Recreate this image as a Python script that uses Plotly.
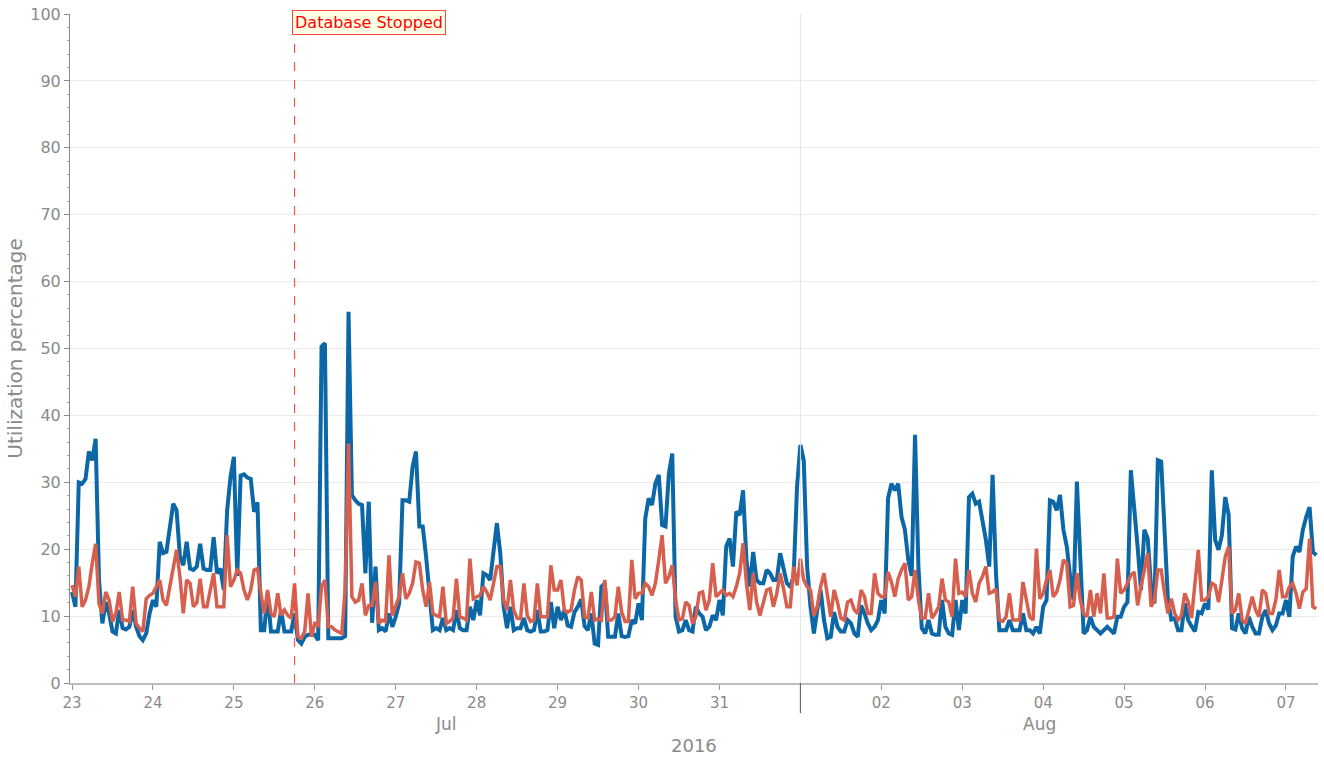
import pandas as pd
import plotly.graph_objects as go

# hourly samples, starting 2016-07-23 00:00
start = "2016-07-23 00:00"

blue_util = [
    # Jul 23
    13.6, 11.4, 30.0, 29.8, 30.5, 34.6, 33.3, 36.5, 15.4, 8.9, 12.1, 10.4, 7.7, 7.4, 10.9, 8.2, 8.0, 8.4, 10.9, 8.4, 7.0, 6.4, 7.4, 10.4,
    # Jul 24
    12.4, 11.4, 21.1, 19.4, 19.6, 23.3, 26.8, 25.8, 18.9, 17.6, 21.1, 17.1, 16.9, 17.4, 20.8, 17.1, 16.9, 16.9, 21.8, 16.4, 17.1, 13.9, 25.8, 30.8,
    # Jul 25
    33.8, 16.0, 31.0, 31.2, 30.7, 30.5, 25.6, 27.0, 7.9, 7.9, 13.4, 7.7, 7.7, 7.7, 10.9, 7.7, 7.7, 7.7, 10.4, 6.4, 5.9, 6.9, 7.2, 7.2,
    # Jul 26
    7.2, 6.4, 50.3, 50.8, 6.7, 6.7, 6.7, 6.7, 6.7, 7.0, 55.5, 28.1, 27.3, 26.8, 26.6, 16.4, 27.1, 9.0, 17.4, 7.9, 8.2, 7.7, 10.4, 8.4,
    # Jul 27
    9.9, 11.9, 27.3, 27.3, 27.1, 32.3, 34.6, 23.4, 23.4, 18.9, 13.9, 7.9, 8.2, 7.9, 9.7, 7.9, 8.2, 7.9, 10.9, 8.2, 7.9, 7.9, 11.4, 9.4,
    # Jul 28
    12.4, 10.1, 16.4, 16.1, 15.4, 19.4, 23.9, 19.4, 11.4, 8.2, 11.4, 7.9, 8.2, 8.2, 9.7, 7.9, 7.7, 7.9, 10.9, 7.7, 7.7, 7.9, 12.1, 8.2,
    # Jul 29
    11.4, 9.4, 10.9, 8.6, 8.4, 10.6, 11.4, 12.5, 8.5, 7.9, 10.4, 5.9, 5.7, 14.4, 14.9, 6.9, 6.9, 6.9, 10.4, 7.0, 6.9, 7.0, 9.4, 8.9,
    # Jul 30
    11.9, 9.4, 24.6, 27.6, 26.6, 29.8, 31.1, 23.6, 23.4, 31.3, 34.3, 9.9, 7.7, 7.9, 9.4, 7.9, 7.7, 11.4, 10.4, 9.9, 7.9, 8.4, 10.1, 9.4,
    # Jul 31
    12.4, 10.1, 20.4, 21.6, 17.4, 25.6, 25.1, 28.8, 18.4, 14.4, 19.6, 15.4, 14.9, 14.9, 16.9, 16.4, 15.4, 15.4, 19.4, 17.1, 14.9, 14.4, 15.9, 29.3,
    # Aug 01
    35.6, 33.3, 17.4, 11.4, 7.4, 10.9, 13.9, 9.4, 6.7, 6.9, 10.6, 8.4, 7.7, 7.7, 9.4, 8.9, 7.4, 6.9, 11.6, 10.4, 8.9, 7.9, 8.4, 9.4,
    # Aug 02
    12.4, 10.4, 27.6, 29.8, 28.8, 29.8, 24.8, 22.9, 18.4, 16.0, 37.1, 17.4, 8.2, 7.4, 9.4, 7.4, 7.2, 7.2, 12.4, 8.4, 7.4, 7.2, 12.4, 7.9,
    # Aug 03
    12.4, 10.4, 27.8, 28.3, 26.8, 27.1, 24.3, 21.4, 17.4, 31.1, 16.4, 7.9, 7.9, 7.9, 9.4, 7.9, 7.9, 7.9, 10.4, 7.9, 7.9, 7.4, 8.4, 7.4,
    # Aug 04
    11.4, 12.4, 27.3, 27.1, 25.8, 28.1, 22.9, 20.4, 15.9, 12.4, 30.1, 18.4, 7.4, 7.9, 9.9, 8.4, 7.9, 7.4, 7.9, 8.4, 7.9, 7.4, 9.9, 9.9,
    # Aug 05
    11.4, 12.1, 31.8, 26.8, 20.4, 13.9, 22.9, 21.6, 14.4, 11.9, 33.3, 33.1, 21.9, 12.4, 9.5, 9.7, 7.9, 7.9, 11.9, 9.4, 8.5, 7.7, 10.6, 10.4,
    # Aug 06
    11.9, 11.0, 31.8, 21.4, 19.9, 22.1, 27.8, 25.1, 8.2, 8.0, 10.4, 8.2, 7.4, 9.9, 8.4, 7.4, 7.4, 9.9, 10.9, 8.9, 7.9, 8.6, 10.4, 10.4,
    # Aug 07
    12.4, 9.9, 18.9, 20.4, 19.6, 22.9, 24.8, 26.3, 19.6, 19.1,
]

red_util = [
    # Jul 23
    14.6, 12.9, 17.4, 11.4, 12.4, 14.4, 17.9, 20.8, 11.9, 10.4, 13.6, 12.4, 9.2, 10.4, 13.6, 9.4, 9.4, 9.2, 14.4, 8.9, 8.2, 7.7, 12.6, 13.1,
    # Jul 24
    13.4, 14.4, 15.4, 12.4, 11.6, 14.4, 17.4, 19.9, 15.9, 10.4, 15.4, 14.9, 11.4, 12.0, 15.6, 11.4, 11.4, 13.9, 16.4, 11.4, 11.4, 11.4, 22.1, 14.4,
    # Jul 25
    15.4, 16.9, 16.4, 13.9, 12.4, 13.9, 16.9, 17.1, 13.4, 10.4, 13.9, 10.4, 9.9, 13.4, 10.1, 10.9, 10.1, 9.7, 14.9, 6.9, 6.7, 7.7, 13.4, 6.9,
    # Jul 26
    8.9, 8.6, 14.4, 15.4, 8.4, 8.4, 7.9, 7.7, 7.4, 14.0, 35.8, 12.9, 12.1, 12.4, 14.9, 10.1, 11.6, 11.6, 15.1, 8.9, 9.4, 9.2, 19.1, 10.1,
    # Jul 27
    11.4, 12.9, 16.4, 12.6, 13.4, 14.9, 18.1, 17.9, 13.9, 11.4, 15.1, 10.4, 10.1, 9.9, 14.4, 8.9, 9.2, 9.7, 15.6, 9.9, 9.7, 9.4, 18.6, 12.6,
    # Jul 28
    12.9, 13.1, 14.4, 13.6, 12.4, 14.9, 17.4, 17.4, 12.4, 10.9, 15.4, 10.9, 9.7, 9.6, 14.9, 10.1, 9.2, 9.4, 14.9, 9.9, 9.9, 9.9, 17.6, 13.9,
    # Jul 29
    13.9, 15.4, 10.9, 10.6, 10.9, 13.9, 15.9, 15.4, 9.9, 9.7, 13.6, 9.4, 9.6, 9.4, 15.4, 9.4, 9.4, 9.9, 14.4, 10.6, 9.2, 9.2, 18.4, 12.6,
    # Jul 30
    13.4, 13.4, 14.9, 14.4, 13.1, 14.9, 18.4, 22.1, 14.9, 15.9, 17.6, 12.4, 9.4, 9.6, 12.1, 11.6, 8.9, 9.9, 13.4, 13.6, 10.9, 12.4, 17.9, 12.9,
    # Jul 31
    13.4, 13.9, 13.1, 13.4, 12.9, 14.4, 16.4, 20.9, 14.9, 10.9, 16.4, 12.1, 10.1, 12.1, 13.9, 14.1, 11.4, 13.4, 16.4, 14.1, 11.4, 11.4, 17.4, 14.6,
    # Aug 01
    18.6, 15.4, 14.4, 13.9, 10.1, 11.4, 14.4, 16.4, 13.4, 9.9, 13.9, 12.1, 9.7, 9.4, 12.1, 12.4, 10.9, 10.4, 13.9, 12.9, 10.4, 10.4, 16.4, 13.4,
    # Aug 02
    12.9, 12.9, 16.6, 15.1, 12.9, 15.6, 16.9, 17.9, 12.4, 12.9, 16.9, 12.4, 9.7, 9.7, 13.4, 9.7, 10.4, 11.4, 15.6, 12.4, 12.1, 9.9, 18.6, 13.4,
    # Aug 03
    13.6, 12.9, 16.9, 13.4, 12.1, 14.9, 15.9, 17.4, 13.4, 13.6, 14.1, 9.4, 9.2, 9.9, 13.4, 9.4, 9.4, 9.4, 15.1, 12.4, 9.9, 9.4, 20.1, 12.6,
    # Aug 04
    13.4, 15.4, 16.9, 12.9, 13.6, 15.4, 18.4, 17.9, 11.4, 11.6, 16.4, 12.4, 10.4, 9.9, 13.9, 9.9, 13.4, 10.4, 16.4, 9.7, 9.7, 9.9, 18.6, 13.4,
    # Aug 05
    13.9, 14.9, 16.1, 16.6, 11.6, 14.4, 16.9, 19.4, 11.4, 12.4, 16.9, 16.9, 13.4, 10.4, 12.6, 10.4, 9.4, 10.1, 13.4, 12.1, 9.7, 14.9, 19.9, 12.4,
    # Aug 06
    12.4, 12.9, 14.9, 14.6, 12.1, 15.4, 18.9, 20.4, 10.4, 10.9, 13.4, 9.4, 8.9, 10.9, 12.9, 10.9, 9.9, 13.9, 13.4, 10.4, 10.4, 12.4, 16.9, 12.9,
    # Aug 07
    12.9, 14.4, 14.9, 13.4, 11.1, 13.6, 14.1, 21.6, 11.4, 11.1,
]

tick_days = ["2016-07-23", "2016-07-24", "2016-07-25", "2016-07-26", "2016-07-27",
             "2016-07-28", "2016-07-29", "2016-07-30", "2016-07-31",
             "2016-08-02", "2016-08-03", "2016-08-04", "2016-08-05", "2016-08-06", "2016-08-07"]
tick_labels = ["23", "24", "25", "26", "27", "28", "29", "30", "31",
               "02", "03", "04", "05", "06", "07"]
month_labels = [("Jul", 0.291), ("Aug", 0.792)]
year_label = "2016"

event_time = "2016-07-25 18:00"
event_text = "Database Stopped"
month_break = "2016-08-01"

times = pd.date_range(start, periods=len(blue_util), freq="h")

grey = "#8a8a8a"
font = "DejaVu Sans"

fig = go.Figure()
fig.add_trace(go.Scatter(x=times, y=blue_util, mode="lines", name="blue",
                         line=dict(color="#0b67a6", width=4)))
fig.add_trace(go.Scatter(x=times, y=red_util, mode="lines", name="red",
                         line=dict(color="#d65f4d", width=3.5)))

# month separator
fig.add_shape(type="line", xref="x", yref="paper", x0=month_break, x1=month_break,
              y0=0, y1=1, line=dict(color="#e3e3e3", width=1))
fig.add_shape(type="line", xref="x", yref="paper", x0=month_break, x1=month_break,
              y0=-0.045, y1=0, line=dict(color="#555555", width=1))

# event marker
fig.add_shape(type="line", xref="x", yref="paper", x0=event_time, x1=event_time,
              y0=0, y1=0.97, line=dict(color="#ff3b3b", width=1, dash="dash"))
fig.add_annotation(x=event_time, xref="x", y=1.006, yref="paper", text=event_text,
                   showarrow=False, xanchor="left", yanchor="top", xshift=-3,
                   font=dict(family=font, size=16, color="#ff0000"),
                   bgcolor="#ffffe6", bordercolor="#ff4444", borderwidth=1, borderpad=2)

for name, xp in month_labels:
    fig.add_annotation(x=xp, xref="paper", y=-0.062, yref="paper", text=name,
                       showarrow=False, yanchor="middle",
                       font=dict(family=font, size=17, color=grey))
fig.add_annotation(x=0.5, xref="paper", y=-0.094, yref="paper", text=year_label,
                   showarrow=False, yanchor="middle",
                   font=dict(family=font, size=18, color=grey))

fig.update_layout(
    width=1324, height=762,
    margin=dict(l=70, r=6, t=14, b=79, autoexpand=False),
    paper_bgcolor="white", plot_bgcolor="white",
    showlegend=False,
    font=dict(family=font, color=grey),
)
fig.update_xaxes(
    range=["2016-07-22 23:24", "2016-08-07 09:30"],
    tickvals=tick_days, ticktext=tick_labels, automargin=False,
    showgrid=False, showline=True, linecolor="#bdbdbd", linewidth=2,
    ticks="outside", ticklen=5, tickcolor="#999999",
    tickfont=dict(family=font, size=15, color=grey),
    zeroline=False,
)
fig.update_yaxes(
    range=[0, 100], dtick=10, automargin=False, ticklabeloverflow="allow",
    title=dict(text="Utilization percentage", font=dict(family=font, size=20, color=grey), standoff=2),
    showgrid=True, gridcolor="#ebebeb", gridwidth=1,
    showline=True, linecolor="#8a8a8a", linewidth=1,
    ticks="outside", ticklen=5, tickcolor="#8a8a8a",
    tickfont=dict(family=font, size=16, color=grey),
    minor=dict(ticks="outside", ticklen=2, dtick=2, tickcolor="#aaaaaa", showgrid=False),
    zeroline=False,
)

# drop the default 8px page margin so the figure fills the window exactly
fig.write_html("out.html", config={"displayModeBar": False},
               post_script="document.body.style.margin='0';")
